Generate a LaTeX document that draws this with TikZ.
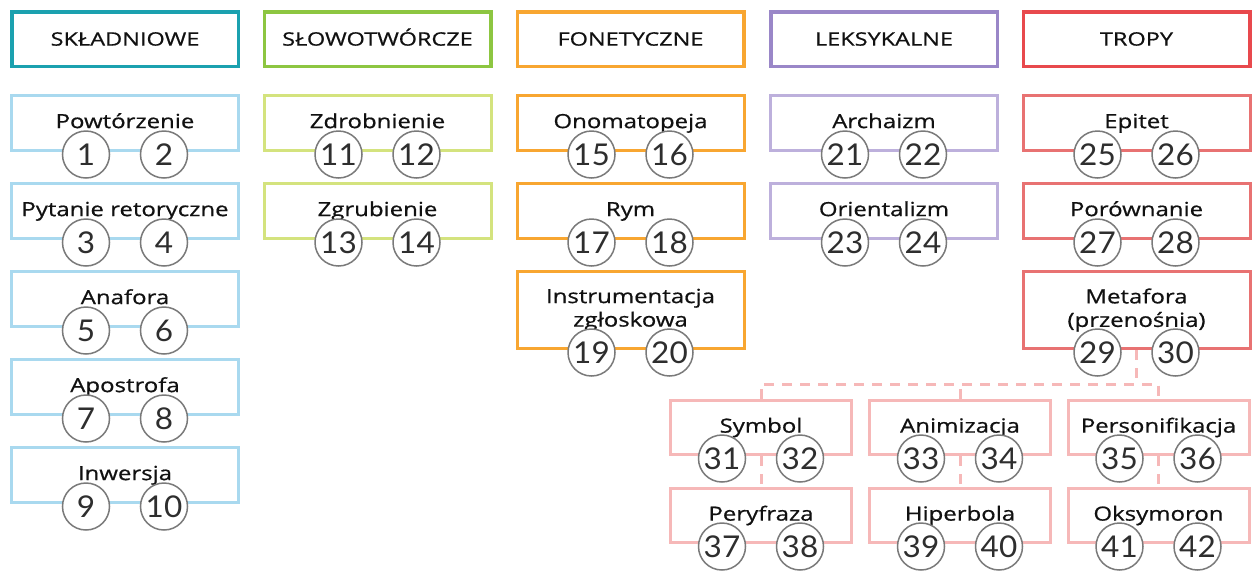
\documentclass[tikz,border=0pt]{standalone}
\usepackage{fontspec}
\setmainfont{Open Sans}[FakeStretch=1.23,FakeBold=0.7]
\newfontfamily\headfont{Open Sans}[FakeStretch=1.27,FakeBold=0.7]
\newfontfamily\numfont{Lato}[FakeStretch=1.05]
\usetikzlibrary{calc}
\definecolor{teal}{HTML}{1BA1AF}
\definecolor{ltblue}{HTML}{A9D9EF}
\definecolor{grn}{HTML}{8DC641}
\definecolor{ltgrn}{HTML}{D4E37E}
\definecolor{orng}{HTML}{F8A631}
\definecolor{purp}{HTML}{9A87C8}
\definecolor{ltpurp}{HTML}{BDB0DC}
\definecolor{redc}{HTML}{E8494D}
\definecolor{ltred}{HTML}{E87272}
\definecolor{pinkc}{HTML}{F6B8B8}
\definecolor{textc}{HTML}{111111}
\definecolor{numc}{HTML}{7A7A7A}
\definecolor{digc}{HTML}{2E2E2E}
\newcommand\ibox[6]{%
  \node[#2] (#1) at (#3) {#4};
  \node[num] (n#5) at ($(#1.south)+(-39,2.5)$) {#5};
  \node[num] (n#6) at ($(#1.south)+(39,2.5)$) {#6};
}
\begin{document}
\begin{tikzpicture}[x=1pt,y=-1pt,
  head/.style={draw, line width=3.5pt, minimum width=226.5pt, minimum height=54.5pt,
    inner sep=0pt, font=\headfont\fontsize{18.5}{20}\selectfont, text=textc, text height=13.2pt, text depth=0pt},
  item/.style={draw, line width=3pt, minimum width=227pt, minimum height=55pt, inner sep=0pt,
    align=center, font=\fontsize{19.5}{23.5}\selectfont, text=textc},
  one/.style={text height=14.8pt, text depth=4.6pt},
  tall/.style={minimum height=77pt},
  sub/.style={item, one, minimum width=181pt, minimum height=54pt, draw=pinkc},
  num/.style={circle, draw=numc, line width=1.5pt, fill=white, minimum size=47pt, inner sep=0pt,
    font=\numfont\fontsize{30}{30}\selectfont, text=digc},
  conn/.style={draw=pinkc, line width=3pt, dash pattern=on 10pt off 8pt}
]
\fill[white] (0,0) rectangle (1252,574);
\useasboundingbox (0,0) rectangle (1252,574);

% headers
\node[head, draw=teal] (h1) at (125,39) {SKŁADNIOWE};
\node[head, draw=grn] (h2) at (377.5,39) {SŁOWOTWÓRCZE};
\node[head, draw=orng] (h3) at (630.5,39) {FONETYCZNE};
\node[head, draw=purp] (h4) at (884,39) {LEKSYKALNE};
\node[head, draw=redc] (h5) at (1136.5,39) {TROPY};

% connectors
\coordinate (bus) at (1136.5,384);

% column 1
\ibox{pow}{item,one,draw=ltblue}{125,123}{Powtórzenie}{1}{2}
\ibox{pyt}{item,one,draw=ltblue}{125,211}{Pytanie retoryczne}{3}{4}
\ibox{ana}{item,one,draw=ltblue}{125,299}{Anafora}{5}{6}
\ibox{apo}{item,one,draw=ltblue}{125,387}{Apostrofa}{7}{8}
\ibox{inw}{item,one,draw=ltblue}{125,475}{Inwersja}{9}{10}

% column 2
\ibox{zdr}{item,one,draw=ltgrn}{377.5,123}{Zdrobnienie}{11}{12}
\ibox{zgr}{item,one,draw=ltgrn}{377.5,211}{Zgrubienie}{13}{14}

% column 3
\ibox{ono}{item,one,draw=orng}{630.5,123}{Onomatopeja}{15}{16}
\ibox{rym}{item,one,draw=orng}{630.5,211}{Rym}{17}{18}
\ibox{ins}{item,tall,draw=orng}{630.5,310}{Instrumentacja\\zgłoskowa}{19}{20}

% column 4
\ibox{arc}{item,one,draw=ltpurp}{884,123}{Archaizm}{21}{22}
\ibox{ori}{item,one,draw=ltpurp}{884,211}{Orientalizm}{23}{24}

% column 5
\ibox{epi}{item,one,draw=ltred}{1136.5,123}{Epitet}{25}{26}
\ibox{por}{item,one,draw=ltred}{1136.5,211}{Porównanie}{27}{28}

\node[item,tall,draw=ltred] (met) at (1136.5,310) {Metafora\\(przenośnia)};
\node[sub] (sym) at (761,427.5) {Symbol};
\node[sub] (ani) at (960,427.5) {Animizacja};
\node[sub] (per) at (1158.5,427.5) {Personifikacja};
\node[sub] (pery) at (761,515.5) {Peryfraza};
\node[sub] (hip) at (960,515.5) {Hiperbola};
\node[sub] (oks) at (1158.5,515.5) {Oksymoron};

\draw[conn] (met.south) -- (bus);
\draw[conn] (sym.north) |- (bus) -| (per.north);
\draw[conn] (ani.north) -- (ani.north |- bus);
\draw[conn] (sym.south) -- (pery.north);
\draw[conn] (ani.south) -- (hip.north);
\draw[conn] (per.south) -- (oks.north);

\node[num] (n29) at ($(met.south)+(-39,2.5)$) {29};
\node[num] (n30) at ($(met.south)+(39,2.5)$) {30};
\node[num] (n31) at ($(sym.south)+(-39,2.5)$) {31};
\node[num] (n32) at ($(sym.south)+(39,2.5)$) {32};
\node[num] (n33) at ($(ani.south)+(-39,2.5)$) {33};
\node[num] (n34) at ($(ani.south)+(39,2.5)$) {34};
\node[num] (n35) at ($(per.south)+(-39,2.5)$) {35};
\node[num] (n36) at ($(per.south)+(39,2.5)$) {36};
\node[num] (n37) at ($(pery.south)+(-39,2.5)$) {37};
\node[num] (n38) at ($(pery.south)+(39,2.5)$) {38};
\node[num] (n39) at ($(hip.south)+(-39,2.5)$) {39};
\node[num] (n40) at ($(hip.south)+(39,2.5)$) {40};
\node[num] (n41) at ($(oks.south)+(-39,2.5)$) {41};
\node[num] (n42) at ($(oks.south)+(39,2.5)$) {42};
\end{tikzpicture}
\end{document}
